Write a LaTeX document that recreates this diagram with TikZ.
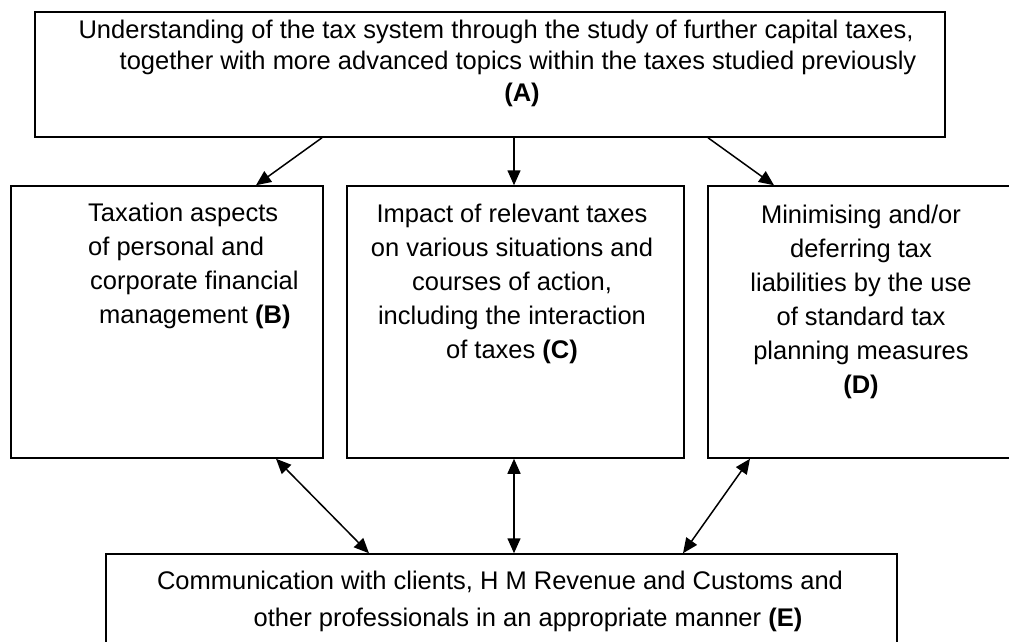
\documentclass[tikz,border=0pt]{standalone}
\usepackage{fontspec}
\setmainfont{Liberation Sans}
\usetikzlibrary{arrows.meta}

\begin{document}
\begin{tikzpicture}[x=1pt, y=-1pt,
        box/.style={draw, line width=1.5pt, inner sep=0pt},
        txt/.style={font=\fontsize{25.5}{34}\selectfont, inner sep=0pt},
        link/.style={line width=1.5pt, -{Triangle[length=15pt,width=13pt]}},
        both/.style={line width=1.5pt, {Triangle[length=15pt,width=13pt]}-{Triangle[length=15pt,width=13pt]}}]
            \useasboundingbox (0,0) rectangle (1009,641);

            \node[box, minimum width=910pt, minimum height=125pt] (boxA) at (490, 74.5) {};
            \node[box, minimum width=312pt, minimum height=272pt] (boxB) at (167, 322) {};
            \node[box, minimum width=337pt, minimum height=272pt] (boxC) at (515.5, 322) {};
            \node[box, minimum width=332pt, minimum height=272pt] (boxD) at (874, 322) {};
            \node[box, minimum width=791pt, minimum height=110pt] (boxE) at (501.5, 609) {};

            \node[txt, align=center, font=\fontsize{25.5}{31.5}\selectfont] (labA) at (496, 63)
                {Understanding of the tax system through the study of further capital taxes,\\
                 \hspace*{44pt}together with more advanced topics within the taxes studied previously\\
                 \hspace*{52pt}\textbf{(A)}};
            \node[txt, align=left, anchor=west] (labB) at (88, 266)
                {Taxation aspects\\ of personal and\\ \hspace*{2pt}corporate financial\\
                 \hspace*{11pt}management \textbf{(B)}};
            \node[txt, align=center] (labC) at (512, 283.5)
                {Impact of relevant taxes\\ on various situations and\\ courses of action,\\
                 including the interaction\\ of taxes \textbf{(C)}};
            \node[txt, align=center] (labD) at (861, 301.5)
                {Minimising and/or\\ deferring tax\\ liabilities by the use\\ of standard tax\\
                 planning measures\\ \textbf{(D)}};
            \node[txt, align=center, font=\fontsize{25.5}{37}\selectfont] (labE) at (500, 601.5)
                {Communication with clients, H M Revenue and Customs and\\
                 \hspace*{56pt}other professionals in an appropriate manner \textbf{(E)}};

            \foreach \b/\s/\e in {boxB/-168/89, boxC/24/-1.5, boxD/218/-100}{
                \draw[link] ([xshift=\s pt]boxA.south) to ([xshift=\e pt]\b.north);
            }

            \foreach \b/\s/\e in {boxB/109/-132.5, boxC/-1.5/12.5, boxD/-124/181.5}{
                \draw[both] ([xshift=\s pt]\b.south) to ([xshift=\e pt]boxE.north);
            }
        \end{tikzpicture}
\end{document}
